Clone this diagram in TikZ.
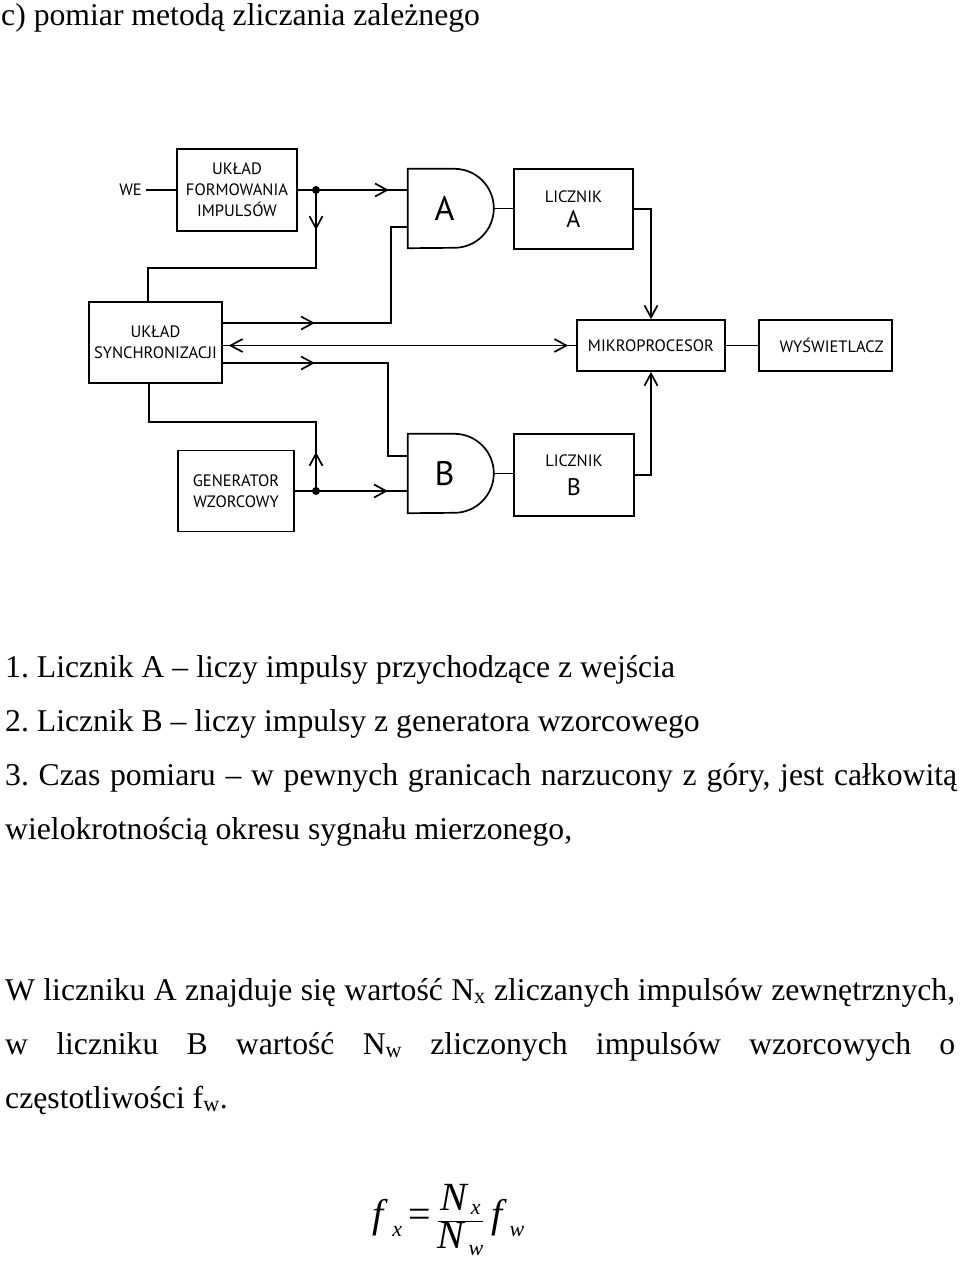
\documentclass[tikz,border=0pt]{standalone}
\usepackage{fontspec}
\setmainfont{Liberation Serif}
\newfontfamily\schemat{PT Sans}
\usetikzlibrary{arrows.meta, decorations.markings}
\frenchspacing

\tikzset{
  >={Straight Barb[length=12pt,width=13pt]},
  linia/.style={line width=1.7pt},
  blok/.style={draw, line width=1.7pt, align=center, inner sep=0pt,
    font=\schemat\fontsize{16.5}{21}\selectfont},
  bramka/.style={minimum width=86pt, minimum height=79pt, inner sep=0pt,
    font=\schemat\fontsize{34}{34}\selectfont},
  arrowat/.style={postaction={decorate, decoration={markings,
    mark=at position #1 with {\arrow{>}}}}},
  arrowback/.style={postaction={decorate, decoration={markings,
    mark=at position #1 with {\arrowreversed{>}}}}},
  wiersz/.style={anchor=base west, inner sep=0pt, font=\fontsize{31.7}{31.7}\selectfont},
}
\newcommand{\duza}[1]{{\fontsize{24}{24}\selectfont #1}}
\newcommand{\ind}[1]{{\fontsize{22}{22}\selectfont #1}}

\begin{document}
\begin{tikzpicture}[x=1pt, y=-1pt]
  \useasboundingbox[fill=white] (0,0) rectangle (960,1261);

  \node[wiersz] (tytul) at (1,25) {c) pomiar metodą zliczania zależnego};

  % bloki
  \node[blok, minimum width=120pt, minimum height=82pt] (form) at (237,190) {UKŁAD\\FORMOWANIA\\IMPULSÓW};
  \node[anchor=east, inner sep=4pt, font=\schemat\fontsize{16.5}{21}\selectfont] (we) at (146,190) {WE};
  \node[blok, minimum width=133pt, minimum height=81pt] (synch) at (155.5,342.5) {UKŁAD\\SYNCHRONIZACJI};
  \node[blok, minimum width=116pt, minimum height=81pt] (gen) at (236,491) {GENERATOR\\WZORCOWY};
  \node[blok, minimum width=119pt, minimum height=80pt] (liczA) at (573.5,209) {LICZNIK\\[4pt]\duza{A}};
  \node[blok, minimum width=120pt, minimum height=82pt] (liczB) at (574,475) {LICZNIK\\[8pt]\duza{B}};
  \node[blok, minimum width=148pt, minimum height=51pt] (mikro) at (651,345.5) {MIKROPROCESOR};
  \node[blok, minimum width=133pt, minimum height=51pt] (wysw) at (825.5,345.5) {\hspace*{12pt}WYŚWIETLACZ};

  % bramki
  \node[bramka] (gA) at (451,208.5) {\hspace*{-13pt}A};
  \draw[linia] (gA.north west) -- ++(46.5,0) arc[start angle=-90, end angle=90, radius=39.5] -- (gA.south west) -- cycle;
  \node[bramka] (gB) at (451,473.5) {\hspace*{-13pt}B};
  \draw[linia] (gB.north west) -- ++(46.5,0) arc[start angle=-90, end angle=90, radius=39.5] -- (gB.south west) -- cycle;

  \coordinate (inA1) at ([yshift=18.5pt]gA.west);
  \coordinate (inA2) at ([yshift=-18.5pt]gA.west);
  \coordinate (inB1) at ([yshift=17.5pt]gB.west);
  \coordinate (inB2) at ([yshift=-17.5pt]gB.west);
  \coordinate (dotA) at (316,190);
  \coordinate (dotB) at (316,491);
  \coordinate (k1) at (148,268);
  \coordinate (k2) at (391,323);
  \coordinate (k3) at (388,363);
  \coordinate (k4) at (149,422);

  % polaczenia
  \draw[linia] (we) -- (form);
  \draw[linia, arrowat=91pt] (form.east |- dotA) -- (dotA) -- (inA1);
  \draw[linia, arrowat=40pt] (dotA) -- (dotA |- k1) -- (k1) -- (k1 |- synch.north);
  \draw[linia, arrowat=92pt] (synch.east |- k2) -- (k2) -- (k2 |- inA2) -- (inA2);
  \draw[linia, arrowback=6pt, arrowat=-8pt] (synch.east |- mikro.west) -- (mikro.west);
  \draw[linia, arrowat=92pt] (synch.east |- k3) -- (k3) -- (k3 |- inB1) -- (inB1);
  \draw[linia, arrowat=39pt] (dotB) -- (dotB |- k4) -- (k4) -- (k4 |- synch.south);
  \draw[linia, arrowat=93pt] (gen.east |- dotB) -- (dotB) -- (inB2);
  \draw[linia] (gA.east) -- (gA.east -| liczA.west);
  \draw[linia] (gB.east) -- (gB.east -| liczB.west);
  \draw[linia, ->] (liczA.east) -- (liczA.east -| mikro.north) -- (mikro.north);
  \draw[linia, ->] (liczB.east) -- (liczB.east -| mikro.south) -- (mikro.south);
  \draw[linia] (mikro) -- (wysw);
  \fill (dotA) circle (4pt);
  \fill (dotB) circle (4pt);

  % opis
  \node[wiersz] (p1) at (5,677) {1. Licznik A – liczy impulsy przychodzące z wejścia};
  \node[wiersz] (p2) at (5,731) {2. Licznik B – liczy impulsy z generatora wzorcowego};
  \node[wiersz] (p3) at (5,785) {\makebox[952pt][s]{3. Czas pomiaru – w pewnych granicach narzucony z góry, jest całkowitą}};
  \node[wiersz] (p4) at (5,839) {wielokrotnością okresu sygnału mierzonego,};
  \node[wiersz] (p5) at (5,1000) {\makebox[950pt][s]{W liczniku A znajduje się wartość N\textsubscript{x} zliczanych impulsów zewnętrznych,}};
  \node[wiersz] (p6) at (5,1054) {\makebox[950pt][s]{w liczniku B wartość N\textsubscript{w} zliczonych impulsów wzorcowych o}};
  \node[wiersz] (p7) at (5,1108) {częstotliwości f\textsubscript{w}.};

  \node[anchor=west, inner sep=0pt, font=\fontsize{40}{40}\selectfont] (wzor) at (372,1220)
    {{\itshape f}\hspace{9pt}\raisebox{-9pt}{\ind{\itshape x}}\hspace{6pt}=\hspace{6pt}$\displaystyle\frac{\mbox{\itshape N\hspace{4pt}\raisebox{-4pt}{\ind{x}}}}{\mbox{\itshape N\hspace{4pt}\raisebox{-7pt}{\ind{w}}}}$\hspace{7pt}{\itshape f}\hspace{7pt}\raisebox{-9pt}{\ind{\itshape w}}};
\end{tikzpicture}
\end{document}
